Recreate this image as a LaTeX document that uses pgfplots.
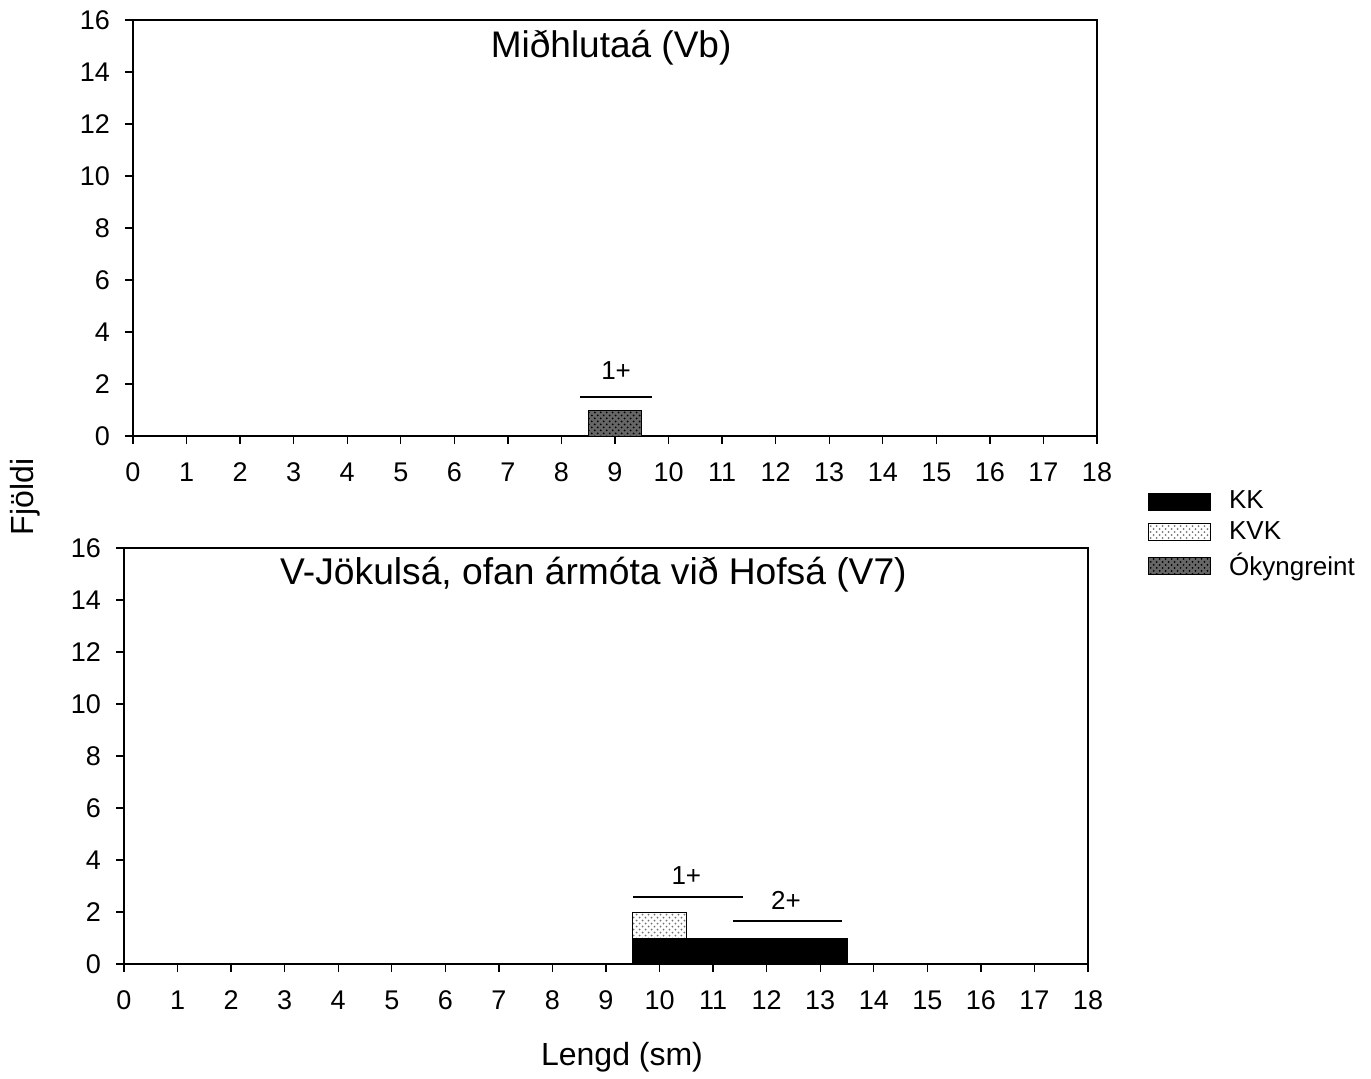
\documentclass[border=0pt]{standalone}
\usepackage{pgfplots}
\pgfplotsset{compat=1.18}
\usepackage{fontspec}
\setmainfont{Liberation Sans}
\usetikzlibrary{patterns}
\begin{document}
\begin{tikzpicture}
\useasboundingbox (0,0) rectangle (685.5bp,-539.5bp);
\pgfplotsset{
 mystyle/.style={
  width=482bp, height=208bp, scale only axis,
  xmin=0,xmax=18,ymin=0,ymax=16,
  xtick={0,...,18}, ytick={0,2,...,16},
  tick align=outside, xtick pos=left, ytick pos=left,
  major tick length=4bp,
  tick style={black, line width=0.7pt},
  axis line style={line width=0.7pt},
  /pgf/number format/assume math mode=true,
  tick label style={font=\fontsize{13.5bp}{15bp}\selectfont},
  xticklabel style={yshift=-6bp},
  yticklabel style={xshift=-4bp},
 },
 kk/.style={fill=black, draw=black},
 kvk/.style={draw=black, pattern=crosshatch dots, pattern color=black!55},
 oky/.style={draw=black, fill=black!60, postaction={pattern=crosshatch dots, pattern color=black}},
}
\begin{axis}[mystyle, at={(66.5bp,-10bp)}, anchor=north west]
\addplot[ybar, bar width=1, oky] coordinates {(9,1)};
\draw[line width=0.7pt] (axis cs:8.35,1.5) -- (axis cs:9.69,1.5);
\node[font=\fontsize{13bp}{14bp}\selectfont] at (axis cs:9.02,2.5) {1+};
\node[font=\fontsize{18.5bp}{20bp}\selectfont] at (rel axis cs:0.496,0.933) {Miðhlutaá (Vb)};
\end{axis}
\begin{axis}[mystyle, at={(62bp,-274bp)}, anchor=north west, ybar stacked, bar width=1,
  legend image code/.code={\draw[#1] (0bp,-4.25bp) rectangle (31bp,4.25bp); \path (38bp,0bp);},
  legend style={at={(1.056,1.157)}, anchor=north west, draw=none, fill=none,
    font=\fontsize{13bp}{15bp}\selectfont, row sep=1bp, cells={anchor=west}}]
\addplot[kk] coordinates {(10,1) (11,1) (12,1) (13,1)};
\addlegendentry{KK}
\addplot[kvk] coordinates {(10,1) (11,0) (12,0) (13,0)};
\addlegendentry{KVK}
\addlegendimage{oky}
\addlegendentry{Ókyngreint}
\draw[line width=0.7pt] (axis cs:9.51,2.58) -- (axis cs:11.55,2.58);
\node[font=\fontsize{13bp}{14bp}\selectfont] at (axis cs:10.5,3.4) {1+};
\draw[line width=0.7pt] (axis cs:11.38,1.65) -- (axis cs:13.4,1.65);
\node[font=\fontsize{13bp}{14bp}\selectfont] at (axis cs:12.36,2.46) {2+};
\node[font=\fontsize{18.6bp}{20bp}\selectfont] at (rel axis cs:0.487,0.935) {V-Jökulsá, ofan ármóta við Hofsá (V7)};
\end{axis}
\node[rotate=90, font=\fontsize{16bp}{18bp}\selectfont] at (12.5bp,-248.5bp) {Fjöldi};
\node[font=\fontsize{16bp}{18bp}\selectfont] at (311bp,-528.5bp) {Lengd (sm)};
\end{tikzpicture}
\end{document}
